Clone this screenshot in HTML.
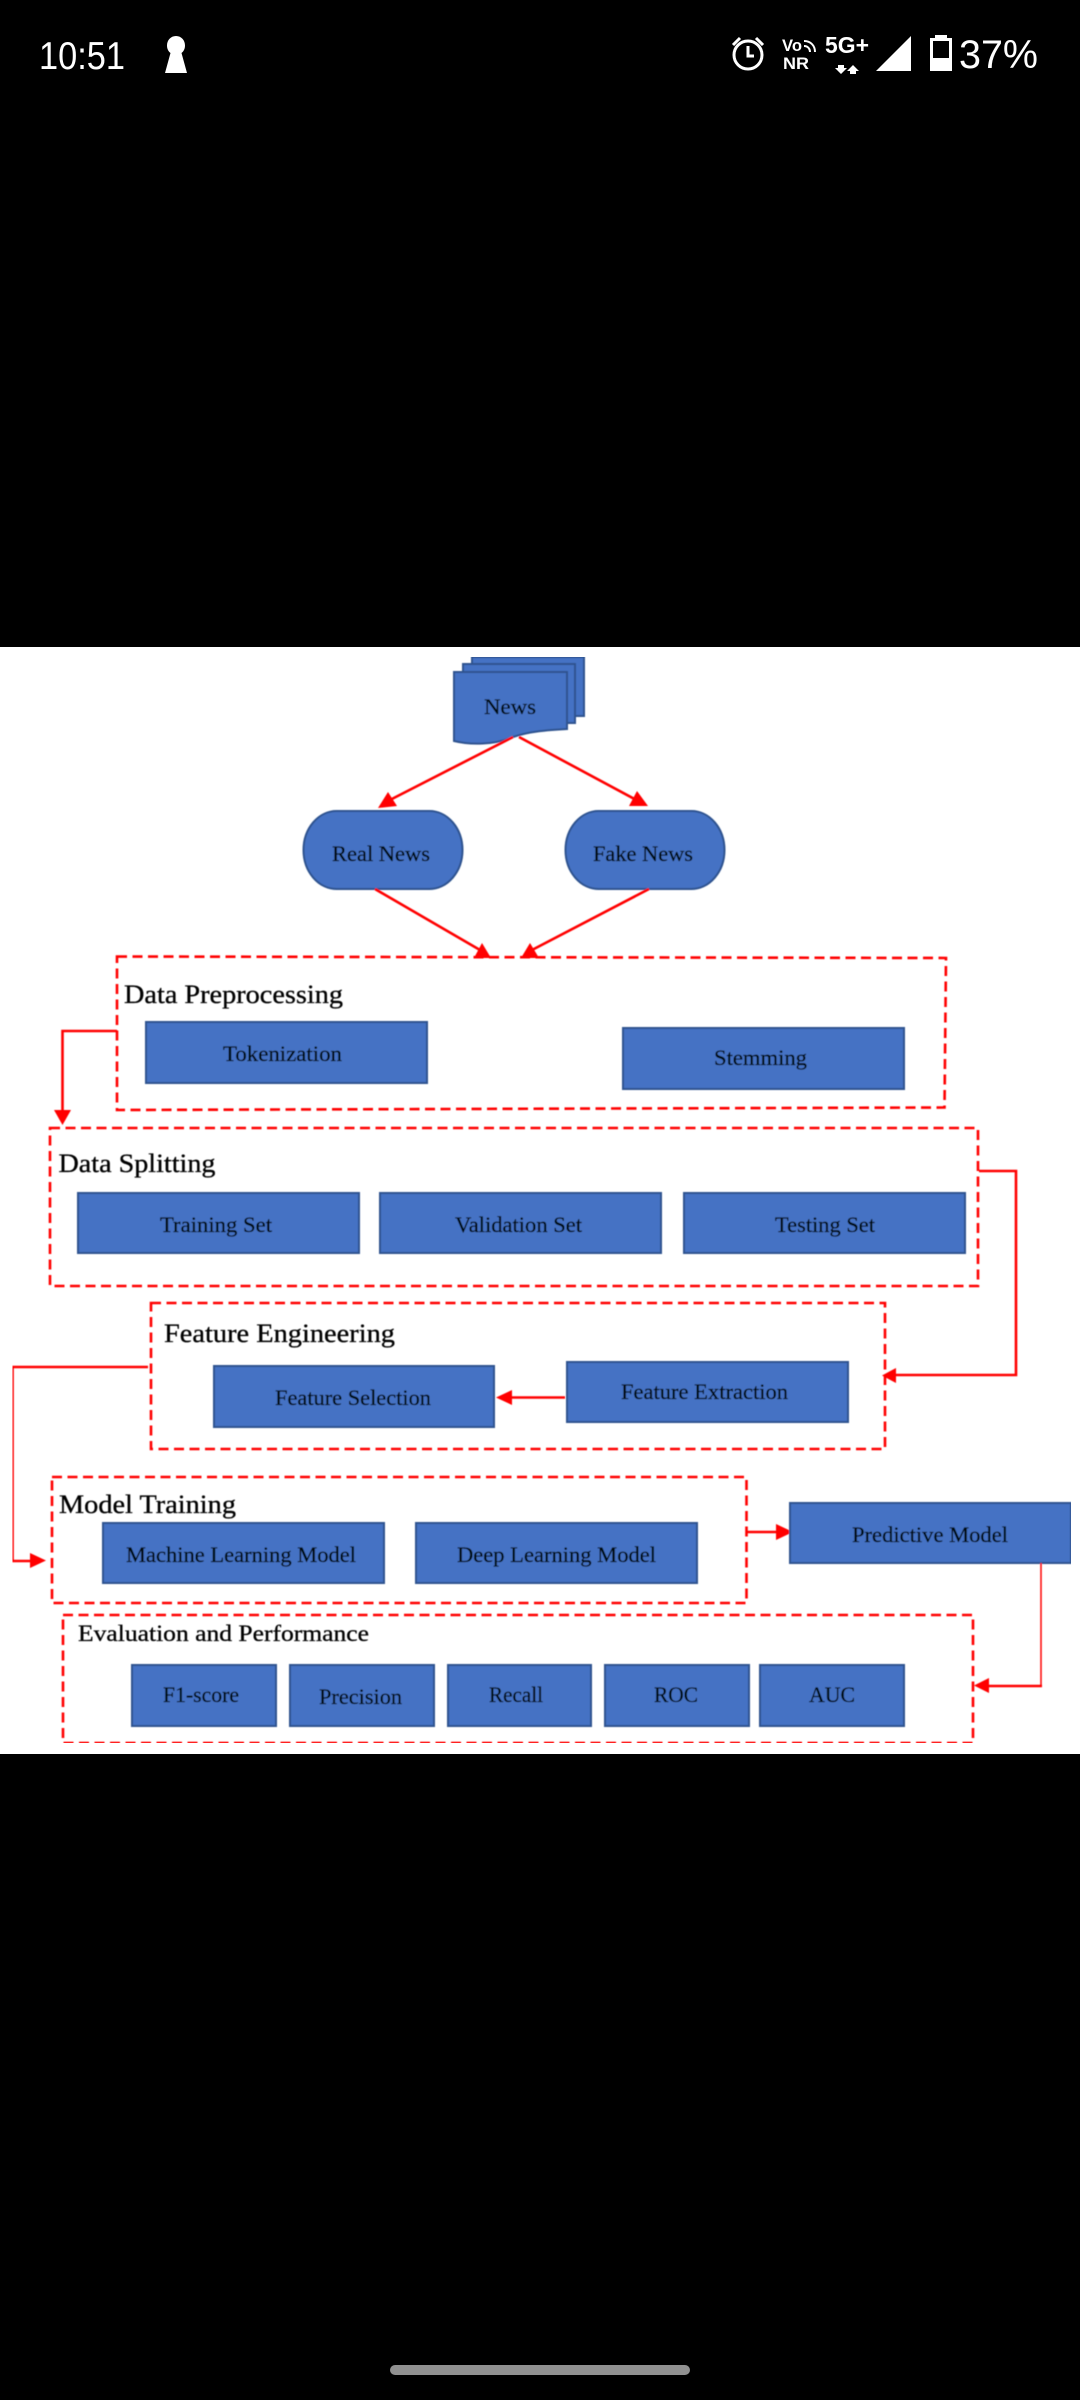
<!DOCTYPE html>
<html lang="en">
<head>
<meta charset="utf-8">
<title>Fake news detection pipeline</title>
<style>
html,body{margin:0;padding:0;background:#000;width:1080px;height:2400px;overflow:hidden}
svg{display:block;position:absolute;left:0;top:0}
.b{fill:#4472C4;stroke:#2F528F;stroke-width:2}
.t{font-family:"Liberation Serif",serif;font-size:22px;fill:#050810;stroke:#050810;stroke-width:.3}
.l{font-family:"Liberation Serif",serif;font-size:26px;fill:#000;stroke:#000;stroke-width:.3}
.d{fill:none;stroke:#FF0000;stroke-width:2.6;stroke-dasharray:10 5.5}
.c{fill:none;stroke:#FF0000;stroke-width:2.6}
.h{fill:#FF0000;stroke:none}
.s{font-family:"Liberation Sans",sans-serif;fill:#fff}
</style>
</head>
<body>
<svg width="1080" height="2400" viewBox="0 0 1080 2400" xmlns="http://www.w3.org/2000/svg">
<defs><filter id="bl" x="0" y="0" width="100%" height="100%"><feGaussianBlur stdDeviation="0.45"/></filter></defs>
<rect width="1080" height="2400" fill="#000"/>

<!-- status bar -->
<text class="s" x="39" y="69" font-size="39" textLength="86" lengthAdjust="spacingAndGlyphs">10:51</text>
<path d="M176 36c5.500 0 9 4.500 9 9.500 0 3.500-1.500 6-3.500 7.500L187 73H165l5.500-20c-2-1.500-3.500-4-3.500-7.500 0-5 3.500-9.500 9-9.500z" fill="#fff"/>
<g fill="none" stroke="#fff" stroke-width="3">
<circle cx="748" cy="55" r="14"/>
<path d="M748 46v10h6"/>
<path d="M733 45l7-7M763 45l-7-7"/>
</g>
<text class="s" x="782" y="51" font-size="17" font-weight="bold" textLength="20" lengthAdjust="spacingAndGlyphs">Vo</text>
<text class="s" x="783" y="69" font-size="17" font-weight="bold" textLength="26" lengthAdjust="spacingAndGlyphs">NR</text>
<path d="M804 41c7 0 11 5 11 11M804 46c4 0 6 3 6 6" fill="none" stroke="#fff" stroke-width="2"/>
<text class="s" x="825" y="53" font-size="23" font-weight="bold" textLength="44" lengthAdjust="spacingAndGlyphs">5G+</text>
<path d="M838 65h6v3h3l-6 6-6-6h3zM850 74h6v-3h3l-6-6-6 6h3z" fill="#fff"/>
<polygon points="876,71 911,71 911,36" fill="#fff"/>
<path d="M935 35h12v3h5v33h-22V38h5z" fill="#fff"/>
<rect x="933" y="41" width="16" height="17" fill="#000"/>
<text class="s" x="959" y="68" font-size="40" textLength="79" lengthAdjust="spacingAndGlyphs">37%</text>

<!-- image -->
<rect x="0" y="647" width="1080" height="1107" fill="#fff"/>

<g filter="url(#bl)">
<!-- News -->
<rect class="b" x="472" y="657" width="112" height="59"/>
<rect class="b" x="463" y="664" width="112" height="59"/>
<path class="b" d="M454 672H567V729C550 730 530 731 513 737C495 745 470 745 454 741Z"/>
<text class="t" x="484" y="714" textLength="52" lengthAdjust="spacingAndGlyphs">News</text>

<!-- Terminators -->
<rect class="b" x="303.500" y="811" width="159" height="78" rx="33" ry="39"/>
<rect class="b" x="565.500" y="811" width="159" height="78" rx="33" ry="39"/>
<text class="t" x="332" y="861" textLength="98" lengthAdjust="spacingAndGlyphs">Real News</text>
<text class="t" x="593" y="861" textLength="100" lengthAdjust="spacingAndGlyphs">Fake News</text>

<!-- Top connectors -->
<path class="c" d="M513 737L386 802M519 737L640 802M375 889L480 950M649 889L532 950"/>
<polygon class="h" points="378,808 397,806 388,792"/>
<polygon class="h" points="637,791 629,806 648,806"/>
<polygon class="h" points="482,943 474,958 491,958"/>
<polygon class="h" points="530,943 521,958 539,958"/>

<!-- Data Preprocessing -->
<polygon class="d" points="117,956.500 946,958 944.500,1107.500 117,1110"/>
<text class="l" x="124" y="1003" textLength="219" lengthAdjust="spacingAndGlyphs">Data Preprocessing</text>
<rect class="b" x="146" y="1022" width="281" height="61"/>
<text class="t" x="223" y="1061" textLength="119" lengthAdjust="spacingAndGlyphs">Tokenization</text>
<rect class="b" x="623" y="1028" width="281" height="61"/>
<text class="t" x="714" y="1065" textLength="93" lengthAdjust="spacingAndGlyphs">Stemming</text>
<path class="c" d="M117 1031H62.500V1112"/>
<polygon class="h" points="54,1110 71,1110 62.500,1125"/>

<!-- Data Splitting -->
<rect class="d" x="50" y="1128" width="928" height="158"/>
<text class="l" x="58.500" y="1172" textLength="157" lengthAdjust="spacingAndGlyphs">Data Splitting</text>
<rect class="b" x="78" y="1193" width="281" height="60"/>
<rect class="b" x="380" y="1193" width="281" height="60"/>
<rect class="b" x="684" y="1193" width="281" height="60"/>
<text class="t" x="160" y="1232" textLength="112" lengthAdjust="spacingAndGlyphs">Training Set</text>
<text class="t" x="455" y="1232" textLength="127" lengthAdjust="spacingAndGlyphs">Validation Set</text>
<text class="t" x="775" y="1232" textLength="100" lengthAdjust="spacingAndGlyphs">Testing Set</text>
<path class="c" d="M979 1171H1016V1375H892"/>
<polygon class="h" points="882,1375.500 896,1368 896,1383"/>

<!-- Feature Engineering -->
<rect class="d" x="151" y="1303" width="734" height="146"/>
<text class="l" x="164" y="1342" textLength="231" lengthAdjust="spacingAndGlyphs">Feature Engineering</text>
<rect class="b" x="214" y="1366" width="280" height="61"/>
<text class="t" x="275" y="1405" textLength="156" lengthAdjust="spacingAndGlyphs">Feature Selection</text>
<rect class="b" x="567" y="1362" width="281" height="60"/>
<text class="t" x="621" y="1399" textLength="167" lengthAdjust="spacingAndGlyphs">Feature Extraction</text>
<path class="c" d="M565 1397.500H506"/>
<polygon class="h" points="496,1397.500 512,1390 512,1405"/>
<path class="c" d="M148 1367H12.500V1561H36"/>
<polygon class="h" points="46,1560.500 30,1553 30,1568"/>

<!-- Model Training -->
<rect class="d" x="52" y="1477" width="694.500" height="126"/>
<text class="l" x="59" y="1513" textLength="177" lengthAdjust="spacingAndGlyphs">Model Training</text>
<rect class="b" x="103" y="1523" width="281" height="60"/>
<rect class="b" x="416" y="1523" width="281" height="60"/>
<text class="t" x="126" y="1562" textLength="230" lengthAdjust="spacingAndGlyphs">Machine Learning Model</text>
<text class="t" x="457" y="1562" textLength="199" lengthAdjust="spacingAndGlyphs">Deep Learning Model</text>
<path class="c" d="M746 1532H782"/>
<polygon class="h" points="793,1532 776,1524 776,1540"/>

<!-- Predictive -->
<rect class="b" x="790" y="1503" width="281" height="60"/>
<text class="t" x="852" y="1542" textLength="156" lengthAdjust="spacingAndGlyphs">Predictive Model</text>
<path d="M1041 1563V1686" fill="none" stroke="#FF0000" stroke-width="1.500"/>
<path class="c" d="M1042 1686H982"/>
<polygon class="h" points="974,1685.500 989,1678 989,1693"/>

<!-- Evaluation -->
<rect class="d" x="63" y="1615" width="910" height="128"/>
<text x="78" y="1641" font-family="'Liberation Serif',serif" font-size="23" fill="#000" stroke="#000" stroke-width=".3" textLength="291" lengthAdjust="spacingAndGlyphs">Evaluation and Performance</text>
<rect class="b" x="132" y="1665" width="144" height="61"/>
<rect class="b" x="290" y="1665" width="144" height="61"/>
<rect class="b" x="448" y="1665" width="143" height="61"/>
<rect class="b" x="605" y="1665" width="144" height="61"/>
<rect class="b" x="760" y="1665" width="144" height="61"/>
<text class="t" x="163" y="1702" textLength="76" lengthAdjust="spacingAndGlyphs">F1-score</text>
<text class="t" x="319" y="1704" textLength="83" lengthAdjust="spacingAndGlyphs">Precision</text>
<text class="t" x="489" y="1702" textLength="54" lengthAdjust="spacingAndGlyphs">Recall</text>
<text class="t" x="654" y="1702" textLength="44" lengthAdjust="spacingAndGlyphs">ROC</text>
<text class="t" x="809" y="1702" textLength="46" lengthAdjust="spacingAndGlyphs">AUC</text>
</g>

<!-- home bar -->
<rect x="390" y="2365" width="300" height="10" rx="5" ry="5" fill="#909090"/>
</svg>
</body>
</html>
